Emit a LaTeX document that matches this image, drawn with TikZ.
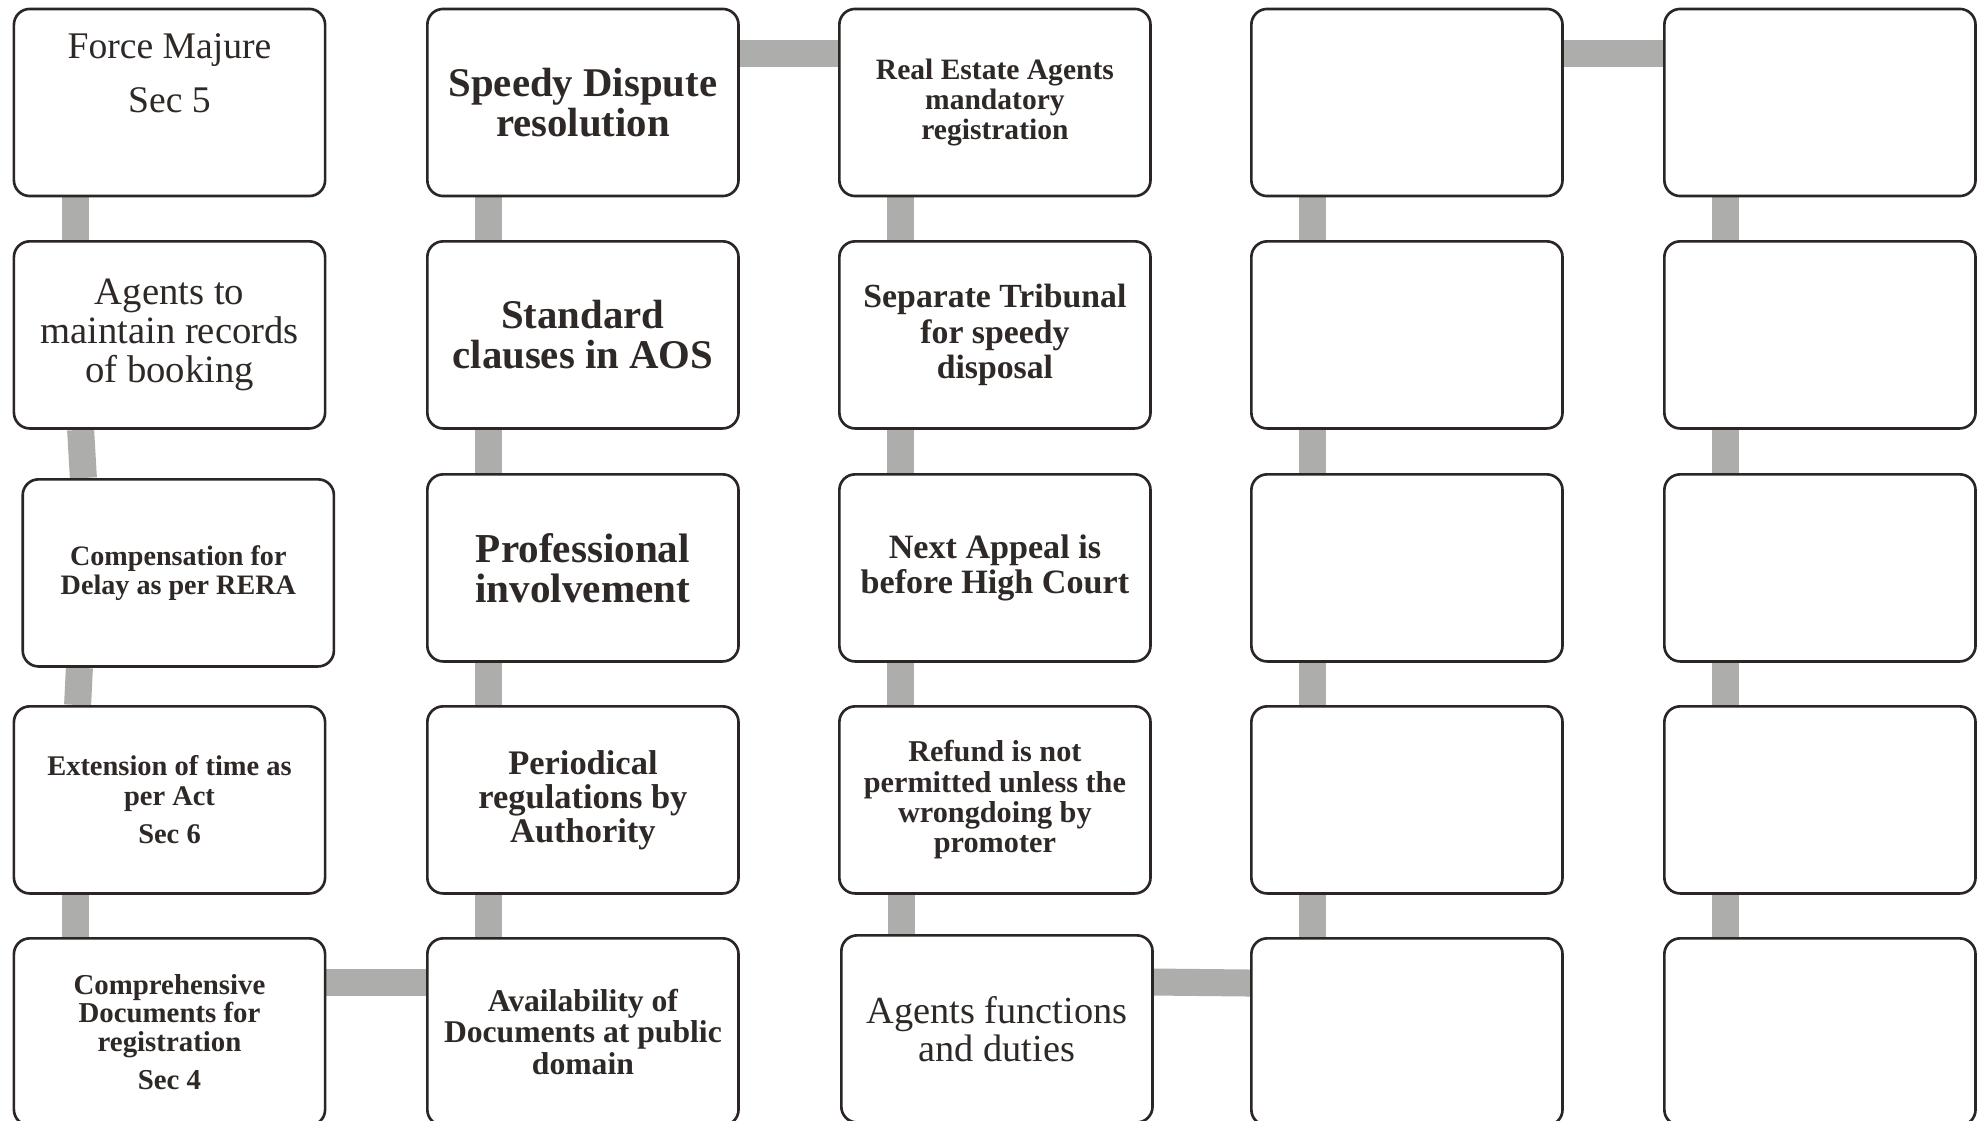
\documentclass[tikz,border=0pt]{standalone}
\usepackage{fontspec}
\setmainfont{Liberation Serif}
\usetikzlibrary{calc, backgrounds}

\definecolor{boxline}{HTML}{2B2624}
\definecolor{ink}{HTML}{2E2926}
\definecolor{bargray}{HTML}{ADADAB}

\begin{document}
\begin{tikzpicture}[x=0.01cm, y=-0.01cm,
		box/.style={draw=boxline, line width=0.75pt, rounded corners=4.5pt, fill=white,
			minimum width=3.11cm, minimum height=1.87cm, inner sep=1pt,
			align=center, text=ink, anchor=north west},
		bar/.style={draw=bargray, line width=0.27cm},
		reg/.style 2 args={font=\fontsize{#1}{#2}\selectfont},
		bld/.style 2 args={font=\fontsize{#1}{#2}\selectfont\bfseries}]
		% Bildbereich
		\useasboundingbox (0,0) rectangle (1977,1120);
		% Spalte 1
		\node[box, reg={10.7}{12}] (b11) at (12.6,7.6) {Force Majure\\[3.4pt]Sec 5\\[4.6pt]\mbox{}};
		\node[box, reg={11}{11.1}] (b12) at (12.6,240) {Agents to\\maintain records\\of booking};
		\node[box, bld={8}{8.3}] (b13) at (21.4,478) {Compensation for\\Delay as per RERA};
		\node[box, bld={8.1}{8.3}] (b14) at (12.6,705) {Extension of time as\\per Act\\[2.7pt]Sec 6};
		\node[box, bld={8.2}{8.1}] (b15) at (12.6,937) {Comprehensive\\Documents for\\registration\\[2.7pt]Sec 4};
		% Spalte 2
		\node[box, bld={11.6}{11.4}] (b21) at (426,7.6) {Speedy Dispute\\resolution};
		\node[box, bld={11.6}{11.4}] (b22) at (426,240) {Standard\\clauses in AOS};
		\node[box, bld={11.7}{11.4}] (b23) at (426,473) {Professional\\involvement};
		\node[box, bld={9.8}{9.7}] (b24) at (426,705) {Periodical\\regulations by\\Authority};
		\node[box, bld={9}{9}] (b25) at (426,937) {Availability of\\Documents at public\\domain};
		% Spalte 3
		\node[box, bld={8.4}{8.6}] (b31) at (838,7.6) {Real Estate Agents\\mandatory\\registration};
		\node[box, bld={9.6}{10}] (b32) at (838,240) {Separate Tribunal\\for speedy\\disposal};
		\node[box, bld={9.7}{9.7}] (b33) at (838,473) {Next Appeal is\\before High Court};
		\node[box, bld={8.6}{8.6}] (b34) at (838,705) {Refund is not\\permitted unless the\\wrongdoing by\\promoter};
		\node[box, reg={10.9}{10.8}] (b35) at (840,934) {Agents functions\\and duties};
		% Spalten 4 und 5 (leer)
		\foreach \c/\x in {4/1250, 5/1663}
			\foreach \r/\y in {1/7.6, 2/240, 3/473, 4/705, 5/937}
				\node[box] (b\c\r) at (\x,\y) {};
		% Verbindungen (hinter den Kaesten)
		\begin{scope}[on background layer]
			\fill[white] (0,0) rectangle (1977,1120);
			\draw[bar] ($(b11.south west)+(63,0)$) -- ($(b12.north west)+(63,0)$);
			\draw[bar] ($(b12.south west)+(68,0)$) -- ($(b13.north west)+(62,0)$);
			\draw[bar] ($(b13.south west)+(58,0)$) -- ($(b14.north west)+(65,0)$);
			\draw[bar] ($(b14.south west)+(63,0)$) -- ($(b15.north west)+(63,0)$);
			\foreach \c in {2,3,4,5}
				\foreach \r/\n in {1/2, 2/3, 3/4}
					\draw[bar] ($(b\c\r.south west)+(62,0)$) -- ($(b\c\n.north west)+(62,0)$);
			\foreach \c in {2,4,5}
				\draw[bar] ($(b\c4.south west)+(62,0)$) -- ($(b\c5.north west)+(62,0)$);
			\draw[bar] ($(b34.south west)+(63,0)$) -- ($(b35.north west)+(61,0)$);
			\draw[bar] ($(b21.north east)+(0,45.4)$) -- ($(b31.north west)+(0,45.4)$);
			\draw[bar] ($(b41.north east)+(0,45.4)$) -- ($(b51.north west)+(0,45.4)$);
			\draw[bar] ($(b15.north east)+(0,45)$) -- ($(b25.north west)+(0,45)$);
			\draw[bar] ($(b35.north east)+(0,48)$) -- ($(b45.north west)+(0,46)$);
		\end{scope}
	\end{tikzpicture}
\end{document}
